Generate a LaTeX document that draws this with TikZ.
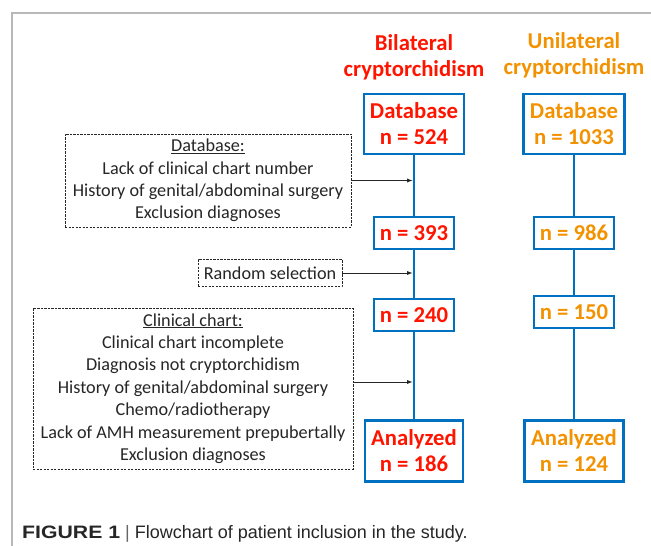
\documentclass[tikz,border=0pt]{standalone}
\usepackage{fontspec}
\setmainfont{Carlito}
\newfontfamily\capfont{Liberation Sans}
\usetikzlibrary{arrows}

\definecolor{bilred}{HTML}{FF1400}
\definecolor{unior}{HTML}{F39200}
\definecolor{boxblue}{HTML}{0070C0}
\definecolor{txtgray}{HTML}{262626}

\begin{document}
\begin{tikzpicture}[x=1pt,y=-1pt,
    big/.style={font=\fontsize{22.7}{26}\selectfont\bfseries, align=center},
    flowbox/.style={big, draw=boxblue, line width=2.6pt, inner sep=0pt},
    excl/.style={draw=txtgray, dash pattern=on 2.2pt off 1.3pt, line width=0.8pt,
                 text=txtgray, align=center, inner sep=0pt,
                 font=\fontsize{18.2}{22.4}\selectfont},
    flow/.style={draw=boxblue, line width=2.6pt},
    exarrow/.style={-latex, draw=txtgray, line width=0.9pt, shorten >=1.5pt}]
  \useasboundingbox (0,0) rectangle (651,546);
  % cadre de la figure
  \draw[gray!55, line width=2pt] (12,546) -- (12,13) -- (651,13);
  % titres
  \node[big, text=bilred] (tbil) at (414,57) {Bilateral\\cryptorchidism};
  \node[big, text=unior] (tuni) at (574,55) {Unilateral\\cryptorchidism};
  % bilateral
  \node[flowbox, text=bilred, minimum width=100, minimum height=60] (db1) at (414,124) {Database\\n = 524};
  \node[flowbox, text=bilred, minimum width=80, minimum height=32] (s1) at (414,233) {n = 393};
  \node[flowbox, text=bilred, minimum width=80, minimum height=32] (s2) at (414,315) {n = 240};
  \node[flowbox, text=bilred, minimum width=98, minimum height=61] (an1) at (414,451) {Analyzed\\n = 186};
  % unilateral
  \node[flowbox, text=unior, minimum width=101, minimum height=60] (db2) at (574,124) {Database\\n = 1033};
  \node[flowbox, text=unior, minimum width=80, minimum height=32] (u1) at (574,233) {n = 986};
  \node[flowbox, text=unior, minimum width=80, minimum height=32] (u2) at (574,312) {n = 150};
  \node[flowbox, text=unior, minimum width=99, minimum height=61] (an2) at (574,451) {Analyzed\\n = 124};
  \draw[flow] (db1) -- (s1) -- (s2) -- (an1);
  \draw[flow] (db2) -- (u1) -- (u2) -- (an2);
  % exclusions
  \node[excl, minimum width=286, minimum height=93] (exdb) at (208,180.5)
    {\underline{Database:}\\Lack of clinical chart number\\History of genital/abdominal surgery\\Exclusion diagnoses};
  \node[excl, minimum width=144, minimum height=27] (exrand) at (270,273) {Random selection};
  \node[excl, minimum width=320, minimum height=161] (exchart) at (193,388.5)
    {\underline{Clinical chart:}\\Clinical chart incomplete\\Diagnosis not cryptorchidism\\History of genital/abdominal surgery\\Chemo/radiotherapy\\Lack of AMH measurement prepubertally\\Exclusion diagnoses};
  \coordinate (chartout) at ([yshift=6.5pt]exchart.east);
  \draw[exarrow] (exdb.east) -- (exdb.east -| s1.center);
  \draw[exarrow] (exrand.east) -- (exrand.east -| s1.center);
  \draw[exarrow] (chartout) -- (chartout -| s1.center);
  % legende
  \node[anchor=base west, inner sep=0pt, font=\capfont\fontsize{18}{20}\selectfont, text=black!85] (legend) at (22,538)
    {\scalebox{1.18}[1]{\textbf{FIGURE 1}} \textcolor{black!60}{|} Flowchart of patient inclusion in the study.};
\end{tikzpicture}
\end{document}
